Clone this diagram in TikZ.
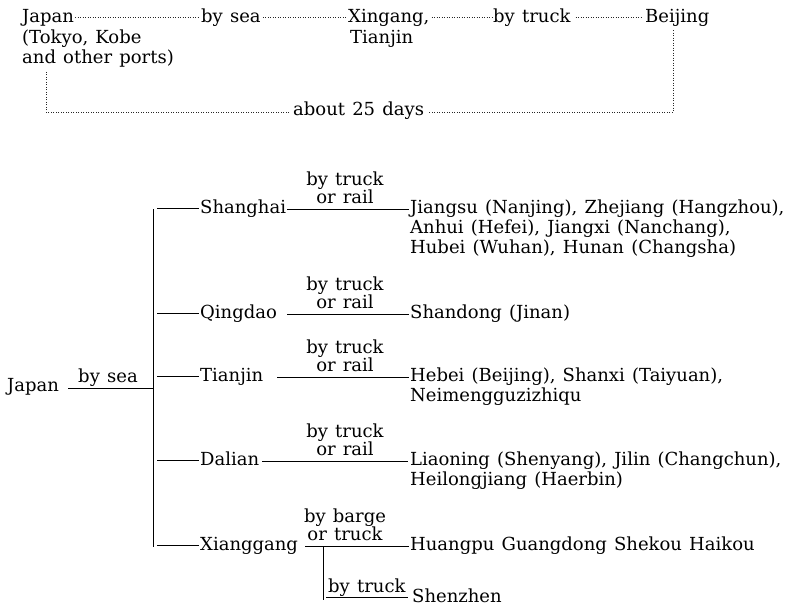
\documentclass[tikz,border=0pt]{standalone}
\usepackage{fontspec}
\setmainfont{DejaVu Serif}
\usetikzlibrary{calc}
\newcommand\wsp{\spaceskip .40em\relax}
\newcommand\figfont{\fontsize{18}{18}\selectfont\wsp}
\begin{document}
\begin{tikzpicture}[x=1pt,y=-1pt,
  txt/.style={inner sep=0pt, anchor=base west, font=\figfont},
  lbl/.style={inner sep=0pt, anchor=south, align=center, font=\figfont},
  dots/.style={line width=0.7pt, black!85, dash pattern=on 1pt off 1.5pt},
  ln/.style={line width=0.75pt},
  brk/.style={line width=0.55pt}]
\useasboundingbox (0,0) rectangle (799,605);

% ---------- upper route ----------
\node[txt] (jp1) at (22,22) {Japan};
\node[txt] (jp2) at (22,43) {(Tokyo, Kobe};
\node[txt] (jp3) at (22,63) {and other ports)};
\node[txt] (bysea) at (201,22) {by sea};
\node[txt] (xg) at (348,22) {Xingang,};
\node[txt] (tj) at (350,43) {Tianjin};
\node[txt] (bytr) at (493,22) {by truck};
\node[txt] (bj) at (645,22) {Beijing};
\node[txt] (days) at (293,115) {about 25 days};
\coordinate (jpdown) at (46,70);
\coordinate (bjdown) at (673,30);

\draw[dots] ([shift={(1,-5)}]jp1.base east) -- ([shift={(-1,-5)}]bysea.base west);
\draw[dots] ([shift={(2,-5)}]bysea.base east) -- ([shift={(-1,-5)}]xg.base west);
\draw[dots] ([shift={(2,-5)}]xg.base east) -- ([shift={(-1,-5)}]bytr.base west);
\draw[dots] ([shift={(5,-5)}]bytr.base east) -- ([shift={(-4,-5)}]bj.base west);
\draw[dots] (bjdown) |- ([shift={(4,-3)}]days.base east);
\draw[dots] ([shift={(-4,-3)}]days.base west) -| (jpdown);

% ---------- lower routes ----------
\node[txt] (jpn) at (7,391) {Japan};
\node[inner sep=0pt, anchor=base, font=\figfont] (lsea) at (108,382) {by sea};
\coordinate (seaend) at (153,388);
\draw[ln] ([shift={(9,-3)}]jpn.base east) -- (seaend);

\coordinate (btop) at (153,209);
\coordinate (bbot) at (153,547);
\draw[brk] (btop) -- (bbot);

% ports
\node[txt] (sh) at (200,213) {Shanghai};
\node[txt] (qd) at (200,318) {Qingdao};
\node[txt] (tn) at (200,381) {Tianjin};
\node[txt] (dl) at (200,465) {Dalian};
\node[txt] (xa) at (200,550) {Xianggang};

\coordinate (b1) at (157,208);
\coordinate (b2) at (157,313);
\coordinate (b3) at (157,376);
\coordinate (b4) at (157,460);
\coordinate (b5) at (157,545);
\draw[ln] (b1) -- ([shift={(-1,-5)}]sh.base west);
\draw[ln] (b2) -- ([shift={(-1,-5)}]qd.base west);
\draw[ln] (b3) -- ([shift={(-1,-5)}]tn.base west);
\draw[ln] (b4) -- ([shift={(-1,-5)}]dl.base west);
\draw[ln] (b5) -- ([shift={(-1,-5)}]xa.base west);

% destinations
\node[txt] (d1) at (410,213) {Jiangsu (Nanjing), Zhejiang (Hangzhou),};
\node[txt] (d1b) at (410,233) {Anhui (Hefei), Jiangxi (Nanchang),};
\node[txt] (d1c) at (410,253) {Hubei (Wuhan), Hunan (Changsha)};
\node[txt] (d2) at (410,318) {Shandong (Jinan)};
\node[txt] (d3) at (410,381) {Hebei (Beijing), Shanxi (Taiyuan),};
\node[txt] (d3b) at (410,401) {Neimengguzizhiqu};
\node[txt] (d4) at (410,465) {Liaoning (Shenyang), Jilin (Changchun),};
\node[txt] (d4b) at (410,485) {Heilongjiang (Haerbin)};
\node[txt] (d5) at (410,550) {Huangpu Guangdong Shekou Haikou};
\node[txt] (d6) at (412,602) {Shenzhen};

% labels
\node[lbl] (l1) at (345,204) {by truck\\or rail};
\node[lbl] (l2) at (345,309) {by truck\\or rail};
\node[lbl] (l3) at (345,372) {by truck\\or rail};
\node[lbl] (l4) at (345,456) {by truck\\or rail};
\node[lbl] (l5) at (345,541) {by barge\\or truck};
\node[txt] (l6) at (328,592) {by truck};

% connectors
\draw[ln] ([shift={(1,-4)}]sh.base east) -- ([shift={(-1,-4)}]d1.base west);
\draw[ln] ([shift={(10,-4)}]qd.base east) -- ([shift={(-1,-4)}]d2.base west);
\draw[ln] ([shift={(14,-4)}]tn.base east) -- ([shift={(-1,-4)}]d3.base west);
\draw[ln] ([shift={(3,-4)}]dl.base east) -- ([shift={(-2,-4)}]d4.base west);
\draw[ln] ([shift={(7,-4)}]xa.base east) -- ([shift={(-1,-4)}]d5.base west);

\coordinate (sub) at (323,546);
\coordinate (subbot) at (323,600);
\draw[brk] (sub) -- (subbot);
\coordinate (subh) at (326,597);
\draw[ln] (subh) -- ([shift={(-4,-5)}]d6.base west);
\end{tikzpicture}
\end{document}
